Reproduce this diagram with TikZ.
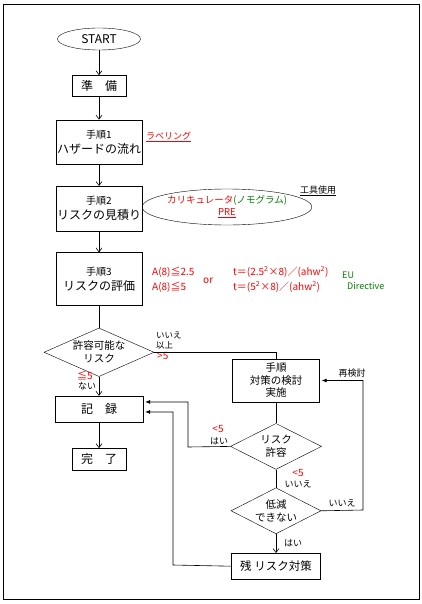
\documentclass[tikz,border=0pt]{standalone}
\usepackage{fontspec}
\setmainfont{Noto Sans CJK JP}
\usetikzlibrary{shapes.geometric, arrows.meta, positioning, calc}
\definecolor{dirgreen}{RGB}{0,128,0}

\begin{document}
\begin{tikzpicture}[x=1pt, y=1pt,
    procbox/.style={rectangle, draw, minimum width=86pt, minimum height=44pt, inner sep=0pt, align=center, font=\fontsize{12}{15}\selectfont},
    smallbox/.style={rectangle, draw, minimum width=54pt, minimum height=21pt, inner sep=0pt, font=\fontsize{12}{14}\selectfont},
    decide/.style={diamond, draw, aspect=2, inner sep=0pt, minimum width=91pt, minimum height=46pt, align=center, font=\fontsize{10.5}{13}\selectfont},
    note/.style={font=\fontsize{9}{11}\selectfont, inner sep=0pt},
    rednote/.style={note, text=red},
    formula/.style={rednote, font=\fontsize{10}{12}\selectfont},
    flow/.style={-{Straight Barb[length=4pt, width=6pt]}, semithick},
    link/.style={semithick},
    back/.style={-{Latex[length=5pt, width=4pt]}, semithick, shorten >=2pt}
]
\useasboundingbox (0,0) rectangle (422,-604);
\draw[thick] (3,-4) rectangle (419,-599);

% Nodes
\node[ellipse, draw, minimum width=83pt, minimum height=22pt, inner sep=0pt, font=\fontsize{12}{14}\selectfont] (start) at (99,-39) {START};
\node[smallbox, below=25pt of start] (prep) {準　備};
\node[procbox, below=23pt of prep] (step1) {{\fontsize{10}{12}\selectfont 手順1}\\ハザードの流れ};
\node[procbox, below=22pt of step1, minimum height=45pt] (step2) {{\fontsize{10}{12}\selectfont 手順2}\\リスクの見積り};
\node[procbox, below=21pt of step2, minimum height=53pt] (step3) {{\fontsize{10}{12}\selectfont 手順3}\\リスクの評価};
\node[decide, below=22pt of step3, minimum width=110pt] (ok) {許容可能な\\リスク};
\node[smallbox, below=19pt of ok, minimum width=88pt, minimum height=26pt] (record) {記　録};
\node[smallbox, below=26pt of record, minimum height=22pt] (done) {完　了};

\node[procbox, minimum width=87pt, minimum height=43pt, font=\fontsize{10.5}{12.5}\selectfont] (measure) at (276,-380.5) {手順\\対策の検討\\実施};
\node[decide, below=21pt of measure] (allow) {リスク\\許容};
\node[decide, below=18pt of allow, minimum width=90pt] (reduce) {低減\\できない};
\node[smallbox, below=19pt of reduce, minimum width=89pt, minimum height=26pt, font=\fontsize{11.5}{14}\selectfont] (residual) {残 リスク対策};

\node[ellipse, draw, minimum width=164pt, minimum height=36pt, inner sep=0pt, align=center, font=\fontsize{9.5}{12}\selectfont] (calc) at (227,-207)
    {{\color{red}カリキュレータ}{\color{dirgreen}(ノモグラム)}\\{\color{red}\underline{PRE}}};

% Labels
\node[rednote, anchor=west] (label) at (146,-137) {\underline{ラベリング}};
\node[note, anchor=west] (tool) at (300,-191) {\underline{工具使用}};
\node[formula, anchor=west] (lim1) at (152,-272) {A(8)≦2.5};
\node[formula, anchor=west] (lim2) at (152,-287) {A(8)≦5};
\node[formula, anchor=west] (or) at (203,-281) {or};
\node[formula, anchor=west] (time1) at (233,-272) {t＝(2.5\textsuperscript{2}×8)／(ahw\textsuperscript{2})};
\node[formula, anchor=west] (time2) at (233,-287) {t＝(5\textsuperscript{2}×8)／(ahw\textsuperscript{2})};
\node[note, text=dirgreen, anchor=west] (eu) at (342,-275) {EU};
\node[note, text=dirgreen, anchor=west] (dir) at (347,-286) {Directive};

\node[note, anchor=west, align=left, font=\fontsize{8.5}{10}\selectfont] (okno) at (156,-340) {いいえ\\以上};
\node[formula, anchor=west] (okgt) at (157,-356) {>5};
\node[formula] (okle) at (85,-375) {≦5};
\node[note] (okyes) at (87,-386) {ない};
\node[formula] (allowlt) at (218,-429) {<5};
\node[note] (allowyes) at (219,-441) {はい};
\node[formula] (allowlt2) at (298,-473) {<5};
\node[note] (allowno) at (298,-484) {いいえ};
\node[note] (reduceno) at (342,-503) {いいえ};
\node[note] (recheck) at (352,-373) {再検討};
\node[note] (reduceyes) at (293,-543) {はい};

% Turning points
\coordinate (yesturn) at (188,-447);
\coordinate (restturn) at (173,-565);
\coordinate (noturn) at (363,-510);
\coordinate (rin1) at ($(record.east)+(0,7)$);
\coordinate (rin2) at ($(record.east)+(0,-3)$);

% Flow
\draw[flow] (start) -- (prep);
\draw[flow] (prep) -- (step1);
\draw[flow] (step1) -- (step2);
\draw[flow] (step2) -- (step3);
\draw[link] (step3) -- (ok);
\draw[flow] (ok) -- (record);
\draw[flow] (record) -- (done);
\draw[link] (ok.east) -| (measure.north);
\draw[link] (measure) -- (allow);
\draw[link] (allow) -- (reduce);
\draw[flow] (reduce) -- (residual);
\draw[back] (allow.west) -- (yesturn) |- (rin1);
\draw[back] (residual.west) -- (restturn) |- (rin2);
\draw[back] (reduce.east) -- (noturn) |- (measure.east);

\end{tikzpicture}
\end{document}
